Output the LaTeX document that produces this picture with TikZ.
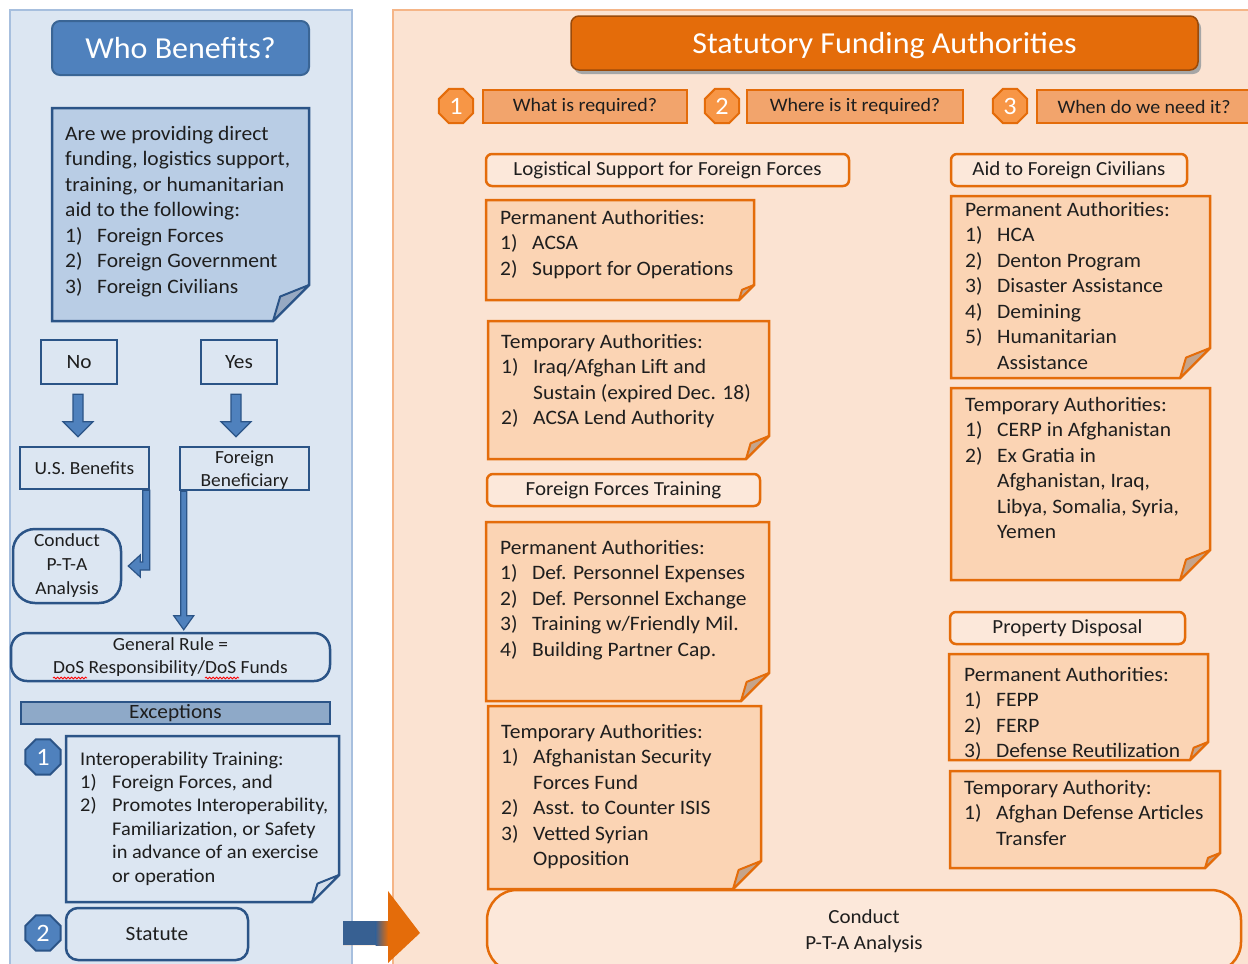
\documentclass[tikz,border=0pt]{standalone}
\usepackage{fontspec}
\setmainfont{Carlito}[FakeStretch=1.05]
\usetikzlibrary{shapes.geometric,calc,decorations.pathmorphing}
\definecolor{lpanel}{HTML}{DCE6F2}
\definecolor{lpanelb}{HTML}{A7BFDE}
\definecolor{bdark}{HTML}{2B5487}
\definecolor{bmid}{HTML}{4F81BD}
\definecolor{bmidb}{HTML}{3A6595}
\definecolor{qfill}{HTML}{B9CDE5}
\definecolor{bflap}{HTML}{97A9C2}
\definecolor{bflapl}{HTML}{D3DEEC}
\definecolor{exfill}{HTML}{8EA9C8}
\definecolor{rpanel}{HTML}{FBE3D2}
\definecolor{rpanelb}{HTML}{F5B587}
\definecolor{otitle}{HTML}{E46C0A}
\definecolor{otitleb}{HTML}{9A4A0A}
\definecolor{oborder}{HTML}{E46C0A}
\definecolor{qbox}{HTML}{F2A46C}
\definecolor{obadge}{HTML}{F79646}
\definecolor{hdr}{HTML}{FCE8DA}
\definecolor{nfill}{HTML}{FBD4B4}
\definecolor{oflap}{HTML}{C5A48B}
\definecolor{txt}{HTML}{1E1E1E}
\definecolor{ablue}{HTML}{376092}
\newcommand{\fsz}[2]{\fontsize{#1}{#2}\selectfont}
\newcommand{\nnum}[1]{\makebox[32pt][l]{#1}}
\newcommand{\nind}{\hspace*{32pt}}
% folded note: x1 y1 x2 y2 fold fill draw flap
\newcommand{\fnote}[8]{%
  \filldraw[fill=#6, draw=#7, line width=2.5, line join=miter] (#1,#2) -- (#3,#2) -- (#3,{#4-#5}) -- ({#3-#5},#4) -- (#1,#4) -- cycle;
  \filldraw[fill=#8, draw=#7, line width=2, line join=round] ({#3-#5},#4) -- ({#3-0.8*#5},{#4-0.68*#5}) -- (#3,{#4-#5}) -- cycle;}
% block arrow down: start, end, shaft half width, head half width, head length
\newcommand{\bdown}[5]{%
  \filldraw[fill=bmid, draw=bdark, line width=1.2] let \p1=#1, \p2=#2 in
   (\x1-#3pt,\y1) -- (\x1+#3pt,\y1) -- (\x1+#3pt,\y2+#5pt) -- (\x1+#4pt,\y2+#5pt) -- (\x1,\y2)
   -- (\x1-#4pt,\y2+#5pt) -- (\x1-#3pt,\y2+#5pt) -- cycle;}
\tikzset{
  lt/.style={font=\fsz{20.5}{25.5}, text=txt, align=left, anchor=north west, inner sep=0},
  bbox/.style={rectangle, draw=bdark, line width=2.5, fill=lpanel, inner sep=0, text=txt, font=\fsz{20.3}{22}},
  rbox/.style={rectangle, inner sep=0},
  badgeb/.style={regular polygon, regular polygon sides=8, minimum size=38, fill=bmid, draw=bdark, line width=2, text=white, font=\fsz{25}{25}, inner sep=0},
  badgeo/.style={regular polygon, regular polygon sides=8, minimum size=37, fill=obadge, draw=oborder, line width=2, text=white, font=\fsz{25}{25}, inner sep=0},
  qb/.style={rectangle, fill=qbox, draw=oborder, line width=2.5, minimum height=33, inner sep=0, text=txt, font=\fsz{19}{20}},
  hb/.style={rectangle, rounded corners=6, fill=hdr, draw=oborder, line width=2.5, minimum height=32, inner sep=0, text=txt, font=\fsz{20}{22}},
  squig/.style={draw=red, line width=0.8, decorate, decoration={snake, amplitude=0.9, segment length=3.5}}
}
\begin{document}
\begin{tikzpicture}[x=1pt,y=-1pt]
\useasboundingbox (0,0) rectangle (1248,964);
\fill[white] (0,0) rectangle (1248,964);
% panels
\filldraw[fill=lpanel, draw=lpanelb, line width=2] (10,10) rectangle (352,990);
\filldraw[fill=rpanel, draw=rpanelb, line width=2] (393,10) rectangle (1270,990);

% ---------- left panel ----------
\node[rbox, fill=bmid, draw=bmidb, line width=2, rounded corners=8, minimum width=257, minimum height=54, text=white, font=\fsz{30.5}{34}, text height=21, text depth=0] (who) at (180.5,48) {Who Benefits?};

\fnote{52}{108}{309}{321}{36}{qfill}{bdark}{bflap}
\node[lt] (q) at (65,126) {Are we providing direct\\funding, logistics support,\\training, or humanitarian\\aid to the following:\\\nnum{1)}Foreign Forces\\\nnum{2)}Foreign Government\\\nnum{3)}Foreign Civilians};

\node[bbox, minimum width=76, minimum height=44] (no) at (79,362) {No};
\node[bbox, minimum width=76, minimum height=44] (yes) at (239,362) {Yes};
\node[bbox, minimum width=129, minimum height=42, font=\fsz{18.5}{20}] (usb) at (84.5,468) {U.S. Benefits};
\node[bbox, minimum width=129, minimum height=43, font=\fsz{18.5}{23}, align=center] (fb) at (244.5,468.5) {\rule{0pt}{16pt}Foreign\\Beneficiary};

\bdown{($(no.south)+(-1,9)$)}{($(usb.north)+(0,-9)$)}{5}{15}{15}
\bdown{($(yes.south)+(-3,9)$)}{($(fb.north)+(0,-9)$)}{5}{15}{15}

\node[bbox, rounded corners=22, minimum width=108, minimum height=74, align=center, font=\fsz{18.5}{24}] (cpta) at (67,566) {Conduct\\P-T-A\\Analysis};

% bent arrow U.S. Benefits -> Conduct
\filldraw[fill=bmid, draw=bdark, line width=1.2] let \p1=($(usb.south east)+(-4,0)$), \p2=($(cpta.east)+(6,0)$) in
  (\x1-3.5pt,\y1) -- (\x1+3.5pt,\y1) -- (\x1+3.5pt,\y2-4pt) -- (\x2+12pt,\y2-4pt) -- (\x2+12pt,\y2-11pt)
  -- (\x2,\y2) -- (\x2+12pt,\y2+11pt) -- (\x2+12pt,\y2+4pt) -- (\x1-3.5pt,\y2+4pt) -- cycle;

\node[bbox, rounded corners=16, minimum width=319, minimum height=48, align=center, font=\fsz{18.5}{23}] (gr) at (170.5,657) {General Rule =\\DoS Responsibility/DoS Funds};
\bdown{($(fb.south west)+(5,0)$)}{($(gr.north)+(0,-2)$)}{3}{10}{14}
\draw[squig] (53,678) -- (87,678);
\draw[squig] (205,678) -- (239,678);

\node[bbox, fill=exfill, minimum width=309, minimum height=22, font=\fsz{20.3}{22}] (exc) at (175.5,713) {Exceptions};

\node[badgeb] (b1) at (43,757) {1};
\fnote{66}{736}{339}{902}{27}{lpanel}{bdark}{bflapl}
\node[lt, font=\fsz{19.4}{23.4}] (iop) at (80,751.5) {Interoperability Training:\\\nnum{1)}Foreign Forces, and\\\nnum{2)}Promotes Interoperability,\\\nind Familiarization, or Safety\\\nind in advance of an exercise\\\nind or operation};

\node[badgeb] (b2) at (43,933) {2};
\node[bbox, rounded corners=12, minimum width=182, minimum height=52] (stat) at (157,934) {Statute};

% big arrow between panels
\coordinate (ga) at (343,933);
\coordinate (gb) at (420,933);
\fill[otitle] (ga) ++(0,-12) -- ++(45,0) -- ++(0,-30) -- (gb) -- ++(-32,30) -- ++(0,-18) -- ++(-45,0) -- cycle;
\fill[ablue] (343,921) rectangle (376,945);
\shade[left color=ablue, right color=otitle] (375.5,921) rectangle (388,945);

% ---------- right panel ----------
\fill[black!35, rounded corners=8] (574,20) rectangle (1201,74);
\node[rbox, fill=otitle, draw=otitleb, line width=1.5, rounded corners=8, minimum width=627, minimum height=54, text=white, font=\fsz{30.5}{34}, text height=21, text depth=0] (title) at (884.5,43) {Statutory Funding Authorities};

\node[badgeo] (o1) at (456,106) {1};
\node[qb, minimum width=204] (q1) at (585,106.5) {What is required?};
\node[badgeo] (o2) at (722,106) {2};
\node[qb, minimum width=216] (q2) at (855,106.5) {Where is it required?};
\node[badgeo] (o3) at (1010,106) {3};
\node[qb, minimum width=214] (q3) at (1144,106.5) {When do we need it?};

\node[hb, minimum width=363] (lsf) at (667.5,170) {Logistical Support for Foreign Forces};
\node[hb, minimum width=236] (afc) at (1069,170) {Aid to Foreign Civilians};
\node[hb, minimum width=273] (fft) at (623.5,490) {Foreign Forces Training};
\node[hb, minimum width=235] (pd) at (1067.5,628) {Property Disposal};

\fnote{486}{200}{754}{300}{15}{nfill}{oborder}{oflap}
\node[lt] (lsp) at (500,210) {Permanent Authorities:\\\nnum{1)}ACSA\\\nnum{2)}Support for Operations};

\fnote{488}{321}{769}{459}{23}{nfill}{oborder}{oflap}
\node[lt] (lst) at (501,334) {Temporary Authorities:\\\nnum{1)}Iraq/Afghan Lift and\\\nind Sustain (expired Dec. 18)\\\nnum{2)}ACSA Lend Authority};

\fnote{486}{522}{769}{701}{28}{nfill}{oborder}{oflap}
\node[lt] (fftp) at (500,540) {Permanent Authorities:\\\nnum{1)}Def. Personnel Expenses\\\nnum{2)}Def. Personnel Exchange\\\nnum{3)}Training w/Friendly Mil.\\\nnum{4)}Building Partner Cap.};

\fnote{488}{706}{761}{889}{28}{nfill}{oborder}{oflap}
\node[lt] (fftt) at (501,724) {Temporary Authorities:\\\nnum{1)}Afghanistan Security\\\nind Forces Fund\\\nnum{2)}Asst. to Counter ISIS\\\nnum{3)}Vetted Syrian\\\nind Opposition};

\fnote{951}{196}{1210}{378}{30}{nfill}{oborder}{oflap}
\node[lt] (afcp) at (965,202) {Permanent Authorities:\\\nnum{1)}HCA\\\nnum{2)}Denton Program\\\nnum{3)}Disaster Assistance\\\nnum{4)}Demining\\\nnum{5)}Humanitarian\\\nind Assistance};

\fnote{951}{388}{1210}{580}{30}{nfill}{oborder}{oflap}
\node[lt] (afct) at (965,397) {Temporary Authorities:\\\nnum{1)}CERP in Afghanistan\\\nnum{2)}Ex Gratia in\\\nind Afghanistan, Iraq,\\\nind Libya, Somalia, Syria,\\\nind Yemen};

\fnote{949}{654}{1208}{760}{18}{nfill}{oborder}{oflap}
\node[lt] (pdp) at (964,667) {Permanent Authorities:\\\nnum{1)}FEPP\\\nnum{2)}FERP\\\nnum{3)}Defense Reutilization};

\fnote{950}{771}{1220}{868}{15}{nfill}{oborder}{oflap}
\node[lt] (pdt) at (964,780) {Temporary Authority:\\\nnum{1)}Afghan Defense Articles\\\nind Transfer};

\node[rbox, fill=hdr, draw=oborder, line width=2.5, rounded corners=30, minimum width=754, minimum height=82, align=center, text=txt, font=\fsz{20}{26}] (rc) at (864,931) {Conduct\\P-T-A Analysis};
\end{tikzpicture}
\end{document}
